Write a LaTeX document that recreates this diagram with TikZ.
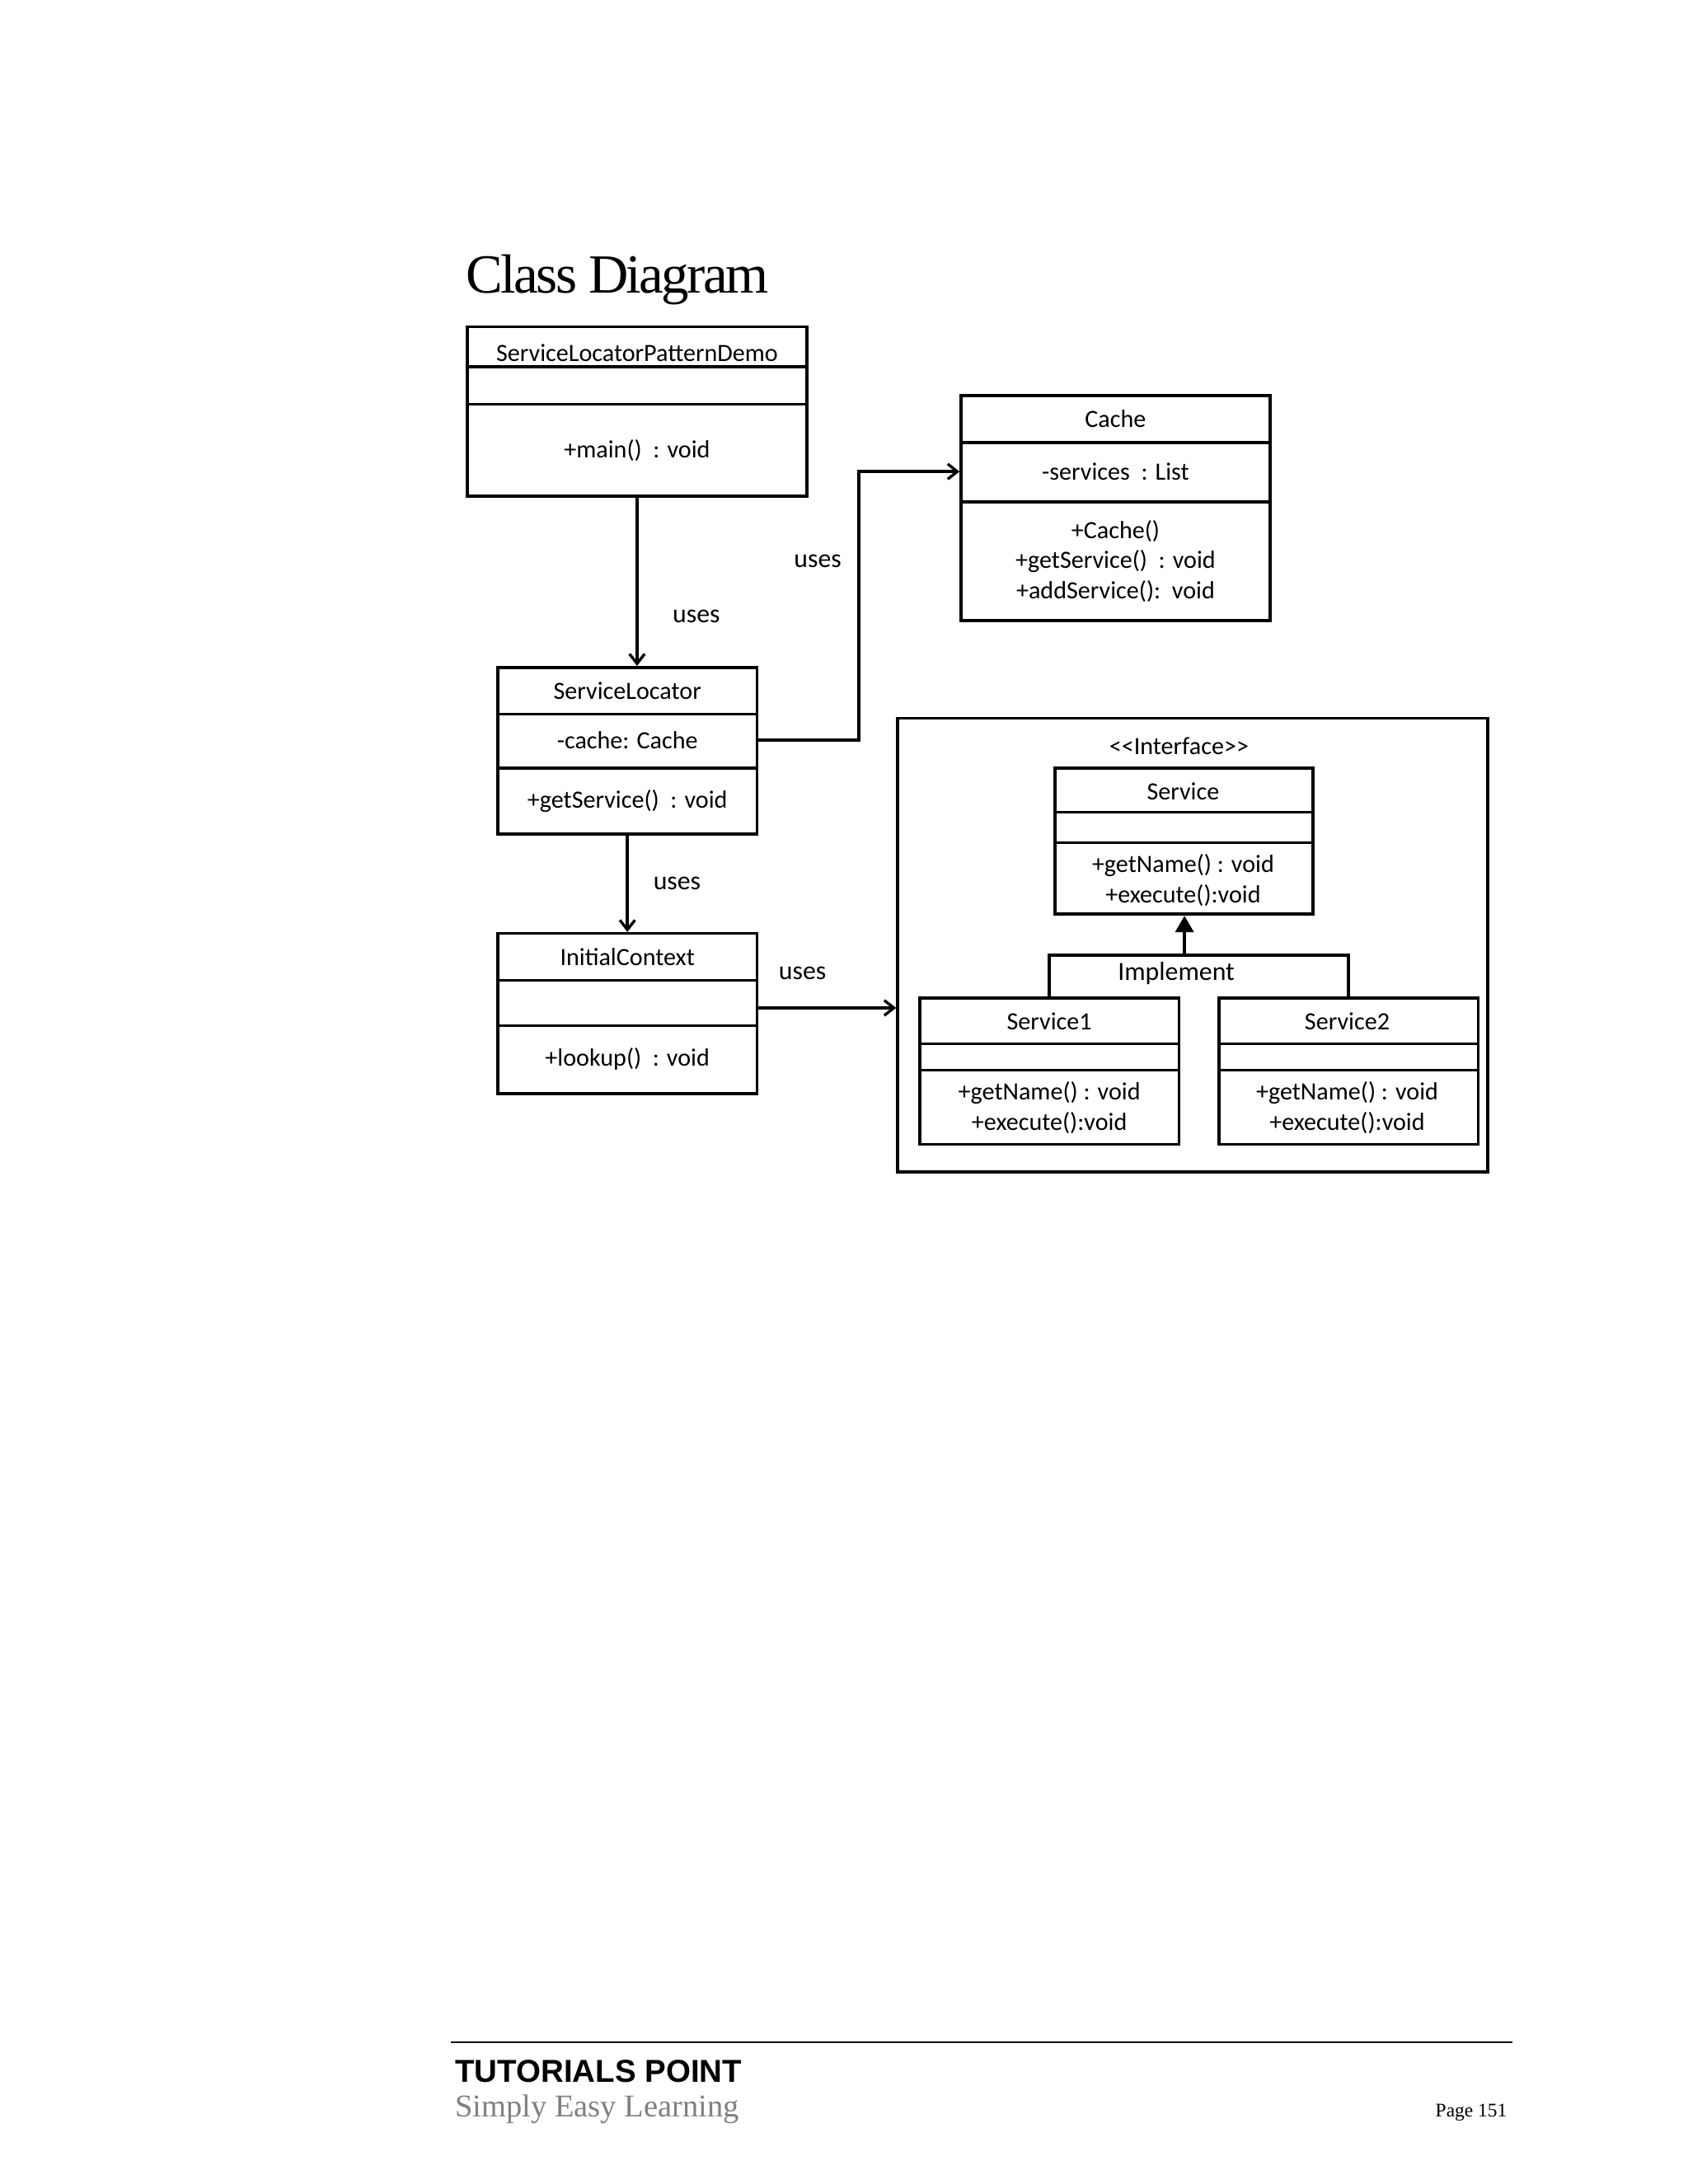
\documentclass[tikz,border=0pt]{standalone}
\usepackage{fontspec}
\setmainfont{Carlito}
\newfontfamily\titlefont{Liberation Serif}
\newfontfamily\headfont{Liberation Sans}
\usetikzlibrary{arrows.meta,calc}
\begin{document}
\begin{tikzpicture}[x=1pt,y=-1pt,
  cls/.style={draw,line width=2.2pt,inner sep=0pt},
  txt/.style={font=\fontsize{18}{22}\selectfont,inner sep=0pt,align=center},
  lbl/.style={font=\fontsize{19}{22}\selectfont,inner sep=0pt},
  conn/.style={line width=2.4pt,-{Straight Barb[length=7pt,width=11pt,line width=2pt]}},
  impl/.style={line width=2.4pt}]
\useasboundingbox[fill=white] (0,0) rectangle (1224,1584);
\node[anchor=west,inner sep=0pt,font=\titlefont\fontsize{40}{44}\selectfont] (title) at (338,203) {\addfontfeature{LetterSpace=-4}Class Diagram};
% classes
\node[cls,minimum width=246pt,minimum height=123pt] (demo) at (462,298.5) {};
\draw[line width=2pt] (339,266)--(585,266) (339,293)--(585,293);
\node[txt] (demoT) at (462,256) {ServiceLocatorPatternDemo};
\node[txt] (demoM) at (462,327) {+main()\ \ : void};

\node[cls,minimum width=224pt,minimum height=163pt] (cache) at (809,368.5) {};
\draw[line width=2pt] (697,321)--(921,321) (697,364)--(921,364);
\node[txt] (cacheT) at (809,304) {Cache};
\node[txt] (cacheA) at (809,342) {-services\ \ : List};
\node[txt] (cacheM) at (809,407) {+Cache()\\+getService()\ \ : void\\+addService():\ \ void};

\node[cls,minimum width=188pt,minimum height=121pt] (sl) at (455,544.5) {};
\draw[line width=2pt] (361,518)--(549,518) (361,557)--(549,557);
\node[txt] (slT) at (455,501) {ServiceLocator};
\node[txt] (slA) at (455,537) {-cache: Cache};
\node[txt] (slM) at (455,581) {+getService()\ \ : void};

\node[cls,minimum width=188pt,minimum height=116pt] (ic) at (455,735) {};
\draw[line width=2pt] (361,711)--(549,711) (361,744)--(549,744);
\node[txt] (icT) at (455,694) {InitialContext};
\node[txt] (icM) at (455,768) {+lookup()\ \ : void};

\node[cls,minimum width=428pt,minimum height=329pt] (group) at (865,685.5) {};
\node[txt] (iface) at (855,541) {{<}{<}Interface{>}{>}};

\node[cls,minimum width=187pt,minimum height=106pt] (svc) at (858.5,610) {};
\draw[line width=2pt] (765,589)--(952,589) (765,611)--(952,611);
\node[txt] (svcT) at (858,574) {Service};
\node[txt] (svcM) at (858,638.5) {+getName()\ : void\\+execute():void};

\node[cls,minimum width=188pt,minimum height=106pt] (s1) at (761,777) {};
\draw[line width=2pt] (667,757)--(855,757) (667,776)--(855,776);
\node[txt] (s1T) at (761,741) {Service1};
\node[txt] (s1M) at (761,803.5) {+getName()\ : void\\+execute():void};

\node[cls,minimum width=188pt,minimum height=106pt] (s2) at (978,777) {};
\draw[line width=2pt] (884,757)--(1072,757) (884,776)--(1072,776);
\node[txt] (s2T) at (977,741) {Service2};
\node[txt] (s2M) at (977,803.5) {+getName()\ : void\\+execute():void};

% connectors
\draw[conn] (demo.south) -- (demo.south |- sl.north);
\node[lbl] (u1) at (505,447) {uses};
\coordinate (bend) at (623,537);
\draw[conn] (sl.east |- slA) -- (bend) -- (bend |- cacheA) -- (cache.west |- cacheA);
\node[lbl] (u2) at (593,407) {uses};
\draw[conn] (sl.south) -- (ic.north);
\node[lbl] (u3) at (491,641) {uses};
\draw[conn] (549,731) -- (group.west |- 0,731);
\node[lbl] (u4) at (582,706) {uses};
\coordinate (j) at (859,693);
\draw[impl] (s1.north) -- (s1.north |- j) -- (s2.north |- j) -- (s2.north);
\draw[line width=2.6pt,-{Triangle[length=12pt,width=13pt]}] (j) -- (svc.south -| j);
\node[lbl] (imp) at (853,706) {Implement};
% footer
\draw[line width=1.2pt] (327,1481) -- (1097,1481);
\node[anchor=west,inner sep=0pt,font=\headfont\bfseries\fontsize{23}{26}\selectfont] (tp) at (330,1502) {TUTORIALS POINT};
\node[anchor=west,inner sep=0pt,text=gray,font=\titlefont\fontsize{23}{26}\selectfont] (sel) at (330,1530) {Simply Easy Learning};
\node[anchor=east,inner sep=0pt,font=\titlefont\fontsize{14}{16}\selectfont] (pg) at (1093,1532) {Page 151};
\end{tikzpicture}
\end{document}
